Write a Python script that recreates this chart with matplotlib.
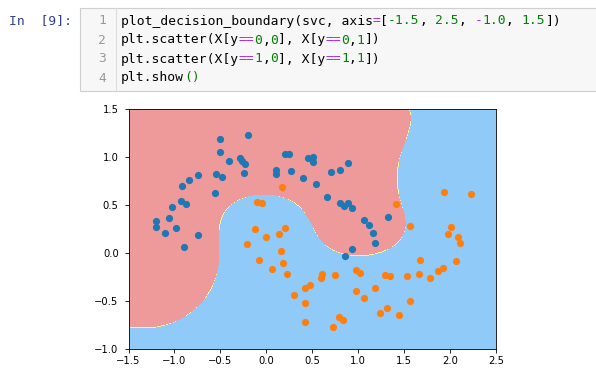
import numpy as np
import matplotlib
matplotlib.use("Agg")
import matplotlib.pyplot as plt
from matplotlib.colors import ListedColormap
from matplotlib.patches import Rectangle
from matplotlib.lines import Line2D

# ---------------- data ----------------
blue_x = [-0.503, -0.20, -0.506, -0.408, -0.288, -0.26, -0.227, -0.241, -0.543, -0.484,
          -0.557, -0.746, -0.84, -0.913, -0.928, -0.877, -1.023, -1.062, -1.204, -1.20,
          -1.10, -0.986, -0.748, -0.892, 0.206, 0.242, 0.453, 0.503, 0.503, 0.889,
          0.802, 0.703, 0.104, 0.104, 0.274, 0.394, 0.536, 0.656, 0.802, 0.849,
          0.889, 0.933, 1.067, 1.114, 1.16, 1.18, 1.328, 0.933, 0.86]
blue_y = [1.19, 1.235, 1.05, 0.963, 0.995, 0.96, 0.932, 0.835, 0.825, 0.79,
          0.63, 0.81, 0.765, 0.696, 0.546, 0.511, 0.48, 0.362, 0.334, 0.27,
          0.212, 0.258, 0.19, 0.063, 1.03, 1.03, 0.989, 1.005, 0.953, 0.943,
          0.866, 0.845, 0.866, 0.825, 0.856, 0.78, 0.72, 0.58, 0.525, 0.49,
          0.525, 0.467, 0.344, 0.292, 0.206, 0.10, 0.379, 0.042, -0.028]
orange_x = [0.176, -0.103, -0.048, -0.121, -0.003, 0.14, 0.203, -0.212, 0.162, -0.078,
            0.187, 0.067, 0.224, 0.606, 0.595, 0.75, 0.478, 0.424, 0.296, 0.416,
            0.787, 0.834, 0.424, 0.725, 0.98, 1.015, 0.98, 1.067, 1.18, 1.56,
            2.01, 1.975, 2.084, 2.105, 1.677, 2.07, 1.296, 1.35, 1.532, 1.663,
            1.786, 1.866, 1.924, 1.568, 1.314, 1.241, 1.448, 1.939, 2.23, 1.412]
orange_y = [0.686, 0.536, 0.519, 0.25, 0.168, 0.193, 0.26, 0.09, 0.021, -0.07,
            -0.107, -0.164, -0.222, -0.222, -0.258, -0.233, -0.337, -0.368, -0.438, -0.519,
            -0.665, -0.703, -0.723, -0.769, -0.18, -0.205, -0.393, -0.47, -0.362, 0.282,
            0.275, 0.195, 0.17, 0.101, -0.07, -0.083, -0.23, -0.243, -0.243, -0.222,
            -0.264, -0.188, -0.153, -0.498, -0.577, -0.623, -0.647, 0.64, 0.616, 0.515]
axis_range = [-1.5, 2.5, -1.0, 1.5]
gamma = 1.0
C = 1.0

code_lines = [
    [("plot_decision_boundary(svc, axis", "k"), ("=", "p"), ("[", "k"), ("-1.5", "g"),
     (", ", "k"), ("2.5", "g"), (", ", "k"), ("-", "p"), ("1.0", "g"), (", ", "k"),
     ("1.5", "g"), ("])", "k")],
    [("plt.scatter(X[y", "k"), ("==", "p"), ("0", "g"), (",", "k"), ("0", "g"),
     ("], X[y", "k"), ("==", "p"), ("0", "g"), (",", "k"), ("1", "g"), ("])", "k")],
    [("plt.scatter(X[y", "k"), ("==", "p"), ("1", "g"), (",", "k"), ("0", "g"),
     ("], X[y", "k"), ("==", "p"), ("1", "g"), (",", "k"), ("1", "g"), ("])", "k")],
    [("plt.show", "k"), ("()", "g")],
]
prompt = "In  [9]:"

# ---------------- RBF-kernel SVC (standardized), solved with SMO ----------------
X = np.column_stack([np.r_[blue_x, orange_x], np.r_[blue_y, orange_y]])
yl = np.r_[-np.ones(len(blue_x)), np.ones(len(orange_x))]
mu = X.mean(0)
sd = X.std(0)
Xs = (X - mu) / sd


def rbf(A, B, g):
    d = (A ** 2).sum(1)[:, None] + (B ** 2).sum(1)[None, :] - 2 * A @ B.T
    return np.exp(-g * np.maximum(d, 0))


K = rbf(Xs, Xs, gamma)
Q = yl[:, None] * yl[None, :] * K
a = np.zeros(len(yl))
G = -np.ones(len(yl))
for _ in range(200000):
    up = ((a < C) & (yl > 0)) | ((a > 0) & (yl < 0))
    low = ((a < C) & (yl < 0)) | ((a > 0) & (yl > 0))
    v = -yl * G
    iu = np.where(up)[0]
    il = np.where(low)[0]
    i = iu[np.argmax(v[iu])]
    j = il[np.argmin(v[il])]
    if v[i] - v[j] < 1e-7:
        break
    eta = max(K[i, i] + K[j, j] - 2 * K[i, j], 1e-12)
    t = (v[i] - v[j]) / eta
    ti = C - a[i] if yl[i] > 0 else a[i]
    tj = a[j] if yl[j] > 0 else C - a[j]
    t = min(t, ti, tj)
    a[i] += yl[i] * t
    a[j] -= yl[j] * t
    G += t * (yl[i] * Q[:, i] - yl[j] * Q[:, j])
v = -yl * G
free = (a > 1e-9) & (a < C - 1e-9)
b = v[free].mean() if free.any() else (v[i] + v[j]) / 2

x0, x1 = np.meshgrid(
    np.linspace(axis_range[0], axis_range[1], int((axis_range[1] - axis_range[0]) * 100)),
    np.linspace(axis_range[2], axis_range[3], int((axis_range[3] - axis_range[2]) * 100)))
Xg = (np.c_[x0.ravel(), x1.ravel()] - mu) / sd
f = rbf(Xg, Xs, gamma) @ (a * yl) + b
zz = (f > 0).astype(float).reshape(x0.shape)

# ---------------- figure ----------------
W, H = 596, 376
fig = plt.figure(figsize=(W / 100, H / 100), dpi=100)
fig.patch.set_facecolor("white")


def fx(px):
    return px / W


def fy(py):
    return 1 - py / H


# code cell box
fig.patches.append(Rectangle((fx(80), fy(91)), fx(600) - fx(80), fy(8) - fy(91),
                             transform=fig.transFigure, facecolor="#f7f7f7",
                             edgecolor="#cfcfcf", linewidth=0.8))
fig.lines.append(Line2D([fx(116), fx(116)], [fy(91), fy(8)], transform=fig.transFigure,
                        color="#dddddd", linewidth=0.8))

mono = "DejaVu Sans Mono"
fsz = 9.4
cw = 0.602 * fsz * 100 / 72  # char width in px
colors = {"k": "#000000", "p": "#AA22FF", "g": "#008000"}
fig.text(fx(72), fy(21), prompt, family=mono, fontsize=fsz, color="#303F9F",
         va="center", ha="right")
line_y = [21, 40, 59, 78]
for n, (toks, ly) in enumerate(zip(code_lines, line_y)):
    fig.text(fx(106), fy(ly), str(n + 1), family=mono, fontsize=fsz, color="#999999",
             va="center", ha="right")
    col = 0
    for txt, c in toks:
        fig.text(fx(121 + col * cw), fy(ly), txt, family=mono, fontsize=fsz,
                 color=colors[c], va="center")
        col += len(txt)

# plot
ax = fig.add_axes([fx(128.5), fy(348.7), fx(496) - fx(128.5), fy(109.3) - fy(348.7)])
cmap = ListedColormap(["#EF9A9A", "#FFF59D", "#90CAF9"])
ax.contourf(x0, x1, zz, cmap=cmap)
ax.scatter(blue_x, blue_y, s=27, color="#1f77b4", linewidths=0)
ax.scatter(orange_x, orange_y, s=27, color="#ff7f0e", linewidths=0)
ax.set_xlim(axis_range[0], axis_range[1])
ax.set_ylim(axis_range[2], axis_range[3])
ax.set_xticks(np.arange(-1.5, 2.51, 0.5))
ax.set_yticks(np.arange(-1.0, 1.51, 0.5))
for s in ax.spines.values():
    s.set_linewidth(0.6)
ax.tick_params(axis="both", labelsize=7.2, length=2.6, width=0.6)
ax.tick_params(axis="x", pad=2.5)
ax.tick_params(axis="y", pad=4.5)

fig.savefig("out.png", dpi=100)
